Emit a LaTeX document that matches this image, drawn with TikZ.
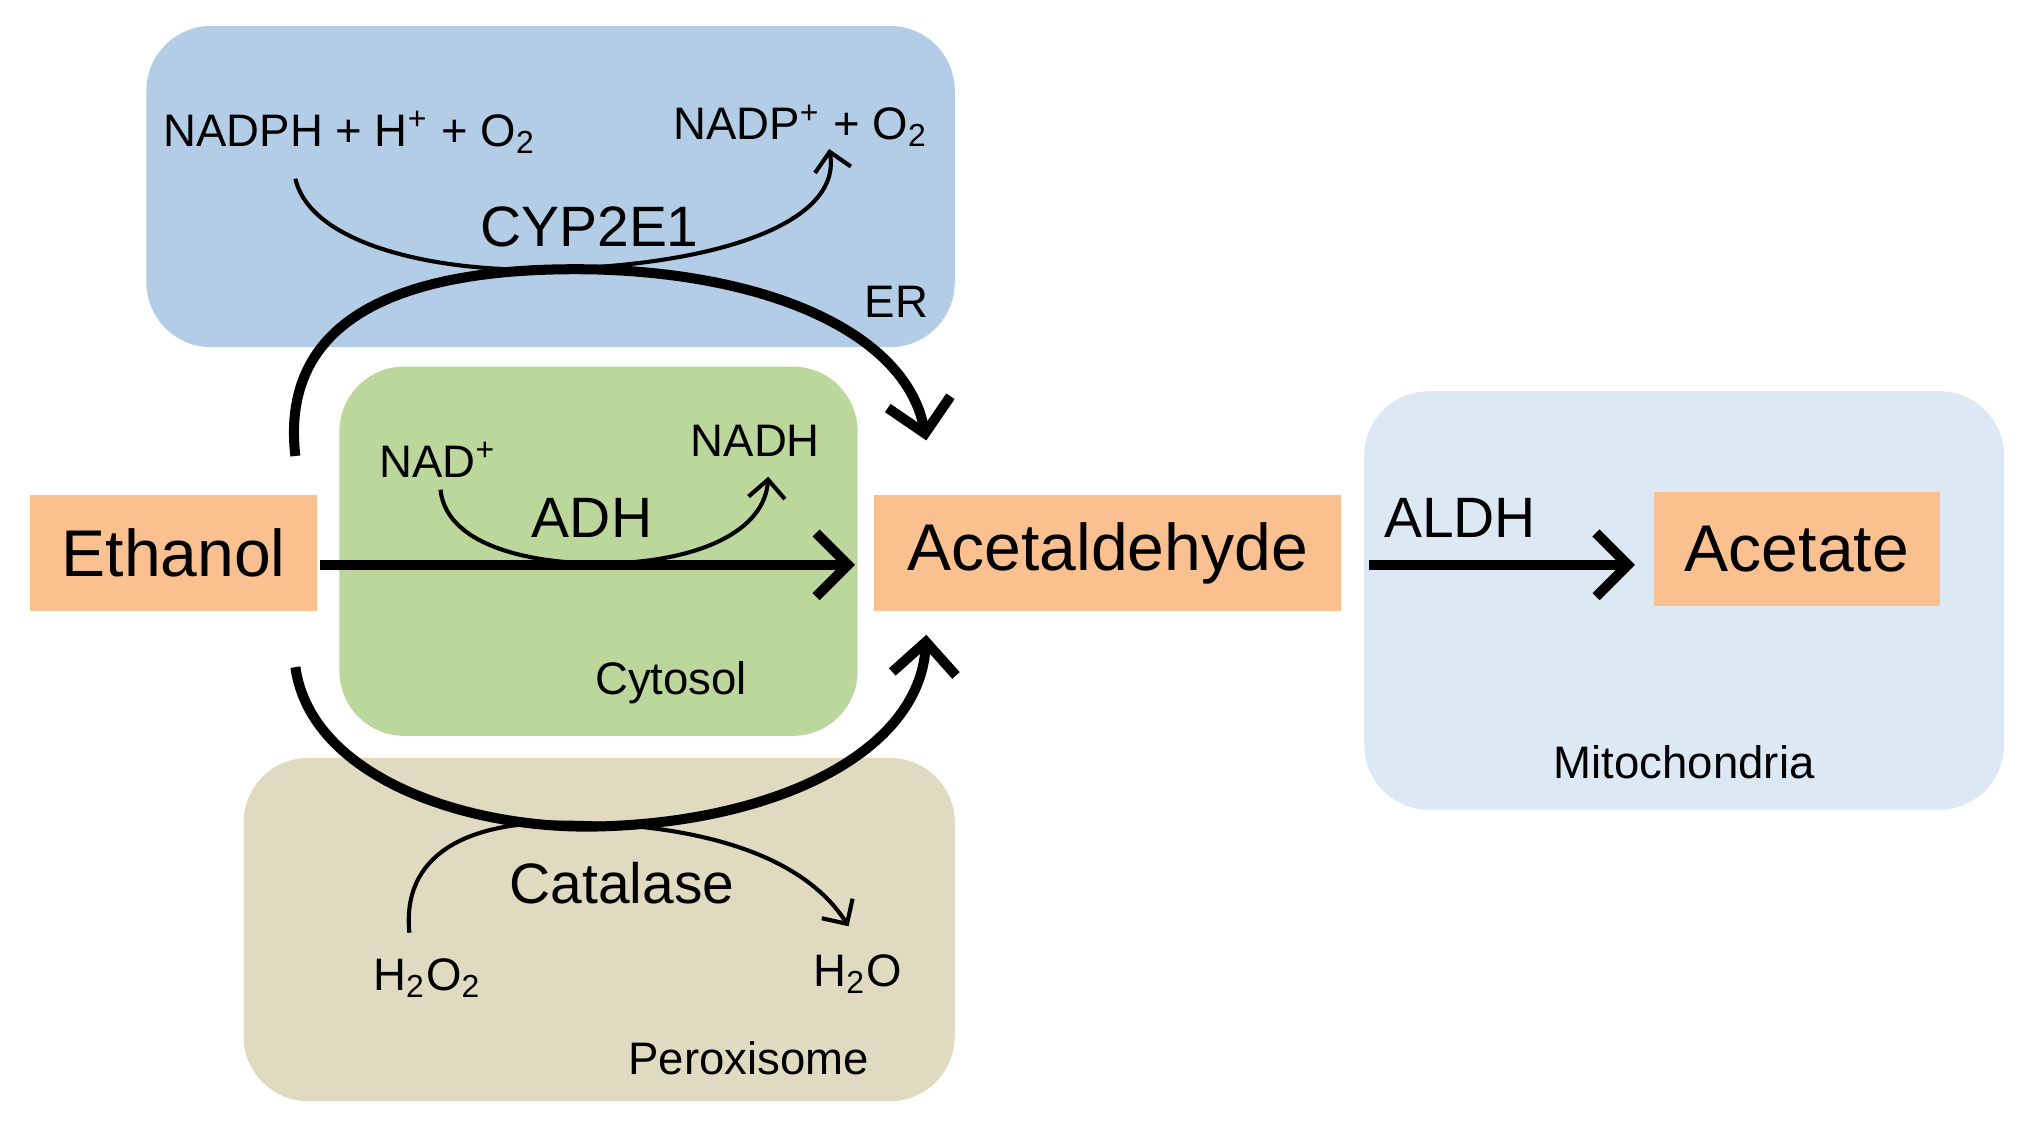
\documentclass[tikz,border=0pt]{standalone}
\usepackage{fontspec}
\setmainfont{Liberation Sans}
\usetikzlibrary{arrows.meta}
\definecolor{er}{RGB}{179,205,230}
\definecolor{cyt}{RGB}{187,215,155}
\definecolor{per}{RGB}{224,218,193}
\definecolor{mit}{RGB}{220,232,244}
\definecolor{org}{RGB}{250,192,143}
\newcommand{\sps}[1]{\textsuperscript{#1}}
\newcommand{\sbs}[1]{\textsubscript{#1}}
\begin{document}
\begin{tikzpicture}[x=0.01cm,y=-0.01cm,
  comp/.style={rounded corners=0.5cm},
  mol/.style={fill=org,inner sep=0pt,font=\fontsize{14.5}{17}\selectfont},
  big/.style={-{Straight Barb[length=7pt,width=14pt]},line width=2.2pt},
  thin/.style={-{Straight Barb[length=4pt,width=8pt]},line width=0.9pt},
  lab/.style={font=\fontsize{10}{12}\selectfont},
  enz/.style={font=\fontsize{12.5}{14}\selectfont}]
\useasboundingbox (0,0) rectangle (1560,865);
\fill[er,comp] (113,20) rectangle (737,268);
\fill[cyt,comp] (262,283) rectangle (662,568);
\fill[per,comp] (188,585) rectangle (737,850);
\fill[mit,comp] (1053,302) rectangle (1547,625);
\node[mol,minimum width=2.22cm,minimum height=0.9cm] (eth) at (134,427) {Ethanol};
\node[mol,minimum width=3.6cm,minimum height=0.9cm] (ace) at (855,427) {Acetaldehyde};
\node[mol,minimum width=2.21cm,minimum height=0.88cm] (act) at (1387,424) {Acetate};
\coordinate (m1) at (247,436); \coordinate (m2) at (660,436);
\draw[big] (m1) -- (m2);
\coordinate (a1) at (1057,436); \coordinate (a2) at (1262,436);
\draw[big] (a1) -- (a2);
\coordinate (e1) at (228,352); \coordinate (e2) at (715,340);
\draw[big] (e1) .. controls (215,240) and (320,205) .. (460,208) .. controls (600,212) and (700,260) .. (e2);
\coordinate (p1) at (228,515); \coordinate (p2) at (715,490);
\draw[big] (p1) .. controls (240,600) and (360,640) .. (460,638) .. controls (600,635) and (710,580) .. (p2);
\coordinate (c1) at (228,138); \coordinate (c2) at (640,115);
\draw[thin] (c1) .. controls (240,190) and (340,210) .. (420,208) .. controls (560,205) and (650,170) .. (c2);
\coordinate (d1) at (340,378); \coordinate (d2) at (593,368);
\draw[thin] (d1) .. controls (345,425) and (420,436) .. (470,435) .. controls (540,433) and (590,410) .. (d2);
\coordinate (k1) at (316,720); \coordinate (k2) at (655,715);
\draw[thin] (k1) .. controls (310,660) and (360,635) .. (430,635) .. controls (540,635) and (620,660) .. (k2);
\node[lab] (t1) at (270,102) {NADPH + H\sps{+} + O\sbs{2}};
\node[lab] (t2) at (618,97) {NADP\sps{+} + O\sbs{2}};
\node[enz] (t3) at (455,175) {CYP2E1};
\node[lab] (t4) at (692,233) {ER};
\node[lab] (t5) at (338,355) {NAD\sps{+}};
\node[lab] (t6) at (583,340) {NADH};
\node[enz] (t7) at (457,400) {ADH};
\node[lab] (t8) at (518,527) {Cytosol};
\node[enz] (t9) at (480,682) {Catalase};
\node[lab] (t10) at (330,755) {H\sbs{2}O\sbs{2}};
\node[lab] (t11) at (662,752) {H\sbs{2}O};
\node[lab] (t12) at (578,817) {Peroxisome};
\node[enz] (t13) at (1127,400) {ALDH};
\node[lab] (t14) at (1300,588) {Mitochondria};
\end{tikzpicture}
\end{document}
